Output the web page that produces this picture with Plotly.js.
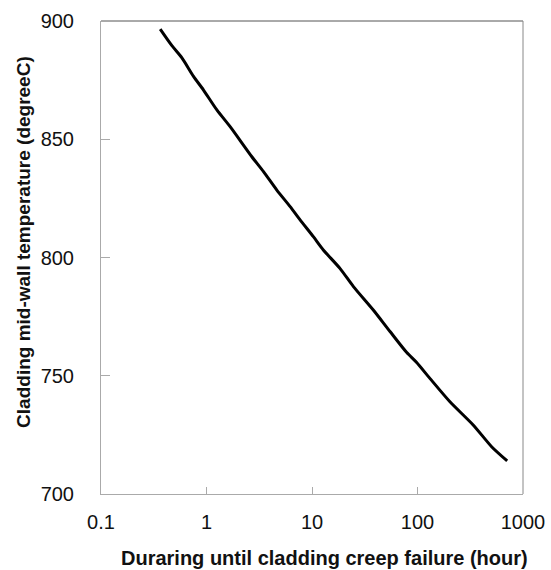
<!DOCTYPE html>
<html>
<head>
<meta charset="utf-8">
<script src="https://cdn.plot.ly/plotly-3.0.1.min.js"></script>
<style>html,body{margin:0;padding:0;background:#fff;}#chart{width:551px;height:570px;}</style>
</head>
<body>
<div id="chart"></div>
<script>
// Duration until cladding creep failure (hour)
const durationHours = [0.364, 0.470, 0.585, 0.753, 0.937, 1.254, 1.675, 2.69, 3.47, 4.64, 6.21, 7.71, 10.3, 12.8, 18.4, 24.7, 38.1, 54.9, 79.1, 98.2, 131, 203, 337, 504, 708];
// Cladding mid-wall temperature (degreeC)
const temperatureC = [896.6, 889.6, 884.4, 876.6, 870.8, 862.4, 855.3, 842.6, 836.3, 828.5, 821.5, 815.9, 808.8, 803.2, 795.4, 787.7, 777.8, 768.7, 759.8, 755.6, 748.9, 739.0, 729.2, 720.0, 714.0];
const xTickVals = [0.1, 1, 10, 100, 1000];
const xTickText = ["0.1", "1", "10", "100", "1000"];
const yTickVals = [700, 750, 800, 850, 900];
const xTitle = "Duraring until cladding creep failure (hour)";
const yTitle = "Cladding mid-wall temperature (degreeC)";

const font = "'Liberation Sans', Arial, sans-serif";
const trace = {
  x: durationHours, y: temperatureC, type: 'scatter', mode: 'lines',
  line: {color: '#000', width: 3, shape: 'spline', smoothing: 0.7}, hoverinfo: 'none'
};
const layout = {
  width: 551, height: 570,
  margin: {l: 101, r: 28, t: 21, b: 76, pad: 0},
  paper_bgcolor: '#fff', plot_bgcolor: '#fff',
  showlegend: false,
  font: {family: font, color: '#111', size: 20},
  xaxis: {
    type: 'log', range: [-1, 3], tickvals: xTickVals, ticktext: xTickText,
    ticks: 'inside', ticklen: 7, tickcolor: '#aaa', tickwidth: 1,
    showline: true, linecolor: '#aaa', linewidth: 1, mirror: false,
    showgrid: false, zeroline: false, ticklabelstandoff: 10,
    tickfont: {family: font, size: 20, color: '#111'}
  },
  yaxis: {
    range: [700, 900], tickvals: yTickVals,
    ticks: 'inside', ticklen: 9, tickcolor: '#aaa', tickwidth: 1,
    showline: true, linecolor: '#aaa', linewidth: 1, mirror: false,
    showgrid: false, zeroline: false, ticklabelstandoff: 22,
    tickfont: {family: font, size: 20, color: '#111'}
  },
  shapes: [
    {type: 'line', xref: 'paper', yref: 'paper', x0: 0, x1: 1, y0: 1, y1: 1, line: {color: '#555', width: 1}},
    {type: 'line', xref: 'paper', yref: 'paper', x0: 1, x1: 1, y0: 0, y1: 1, line: {color: '#888', width: 1}}
  ],
  annotations: [
    {text: '<b>' + xTitle + '</b>', xref: 'paper', yref: 'paper', x: 0.5285, y: -0.1357, xanchor: 'center', yanchor: 'middle', showarrow: false, font: {family: font, size: 20, color: '#111'}},
    {text: '<b>' + yTitle + '</b>', xref: 'paper', yref: 'paper', x: -0.1825, y: 0.533, xanchor: 'center', yanchor: 'middle', textangle: -90, showarrow: false, font: {family: font, size: 19, color: '#111'}}
  ]
};
Plotly.newPlot('chart', [trace], layout, {displayModeBar: false, staticPlot: true});
</script>
</body>
</html>
